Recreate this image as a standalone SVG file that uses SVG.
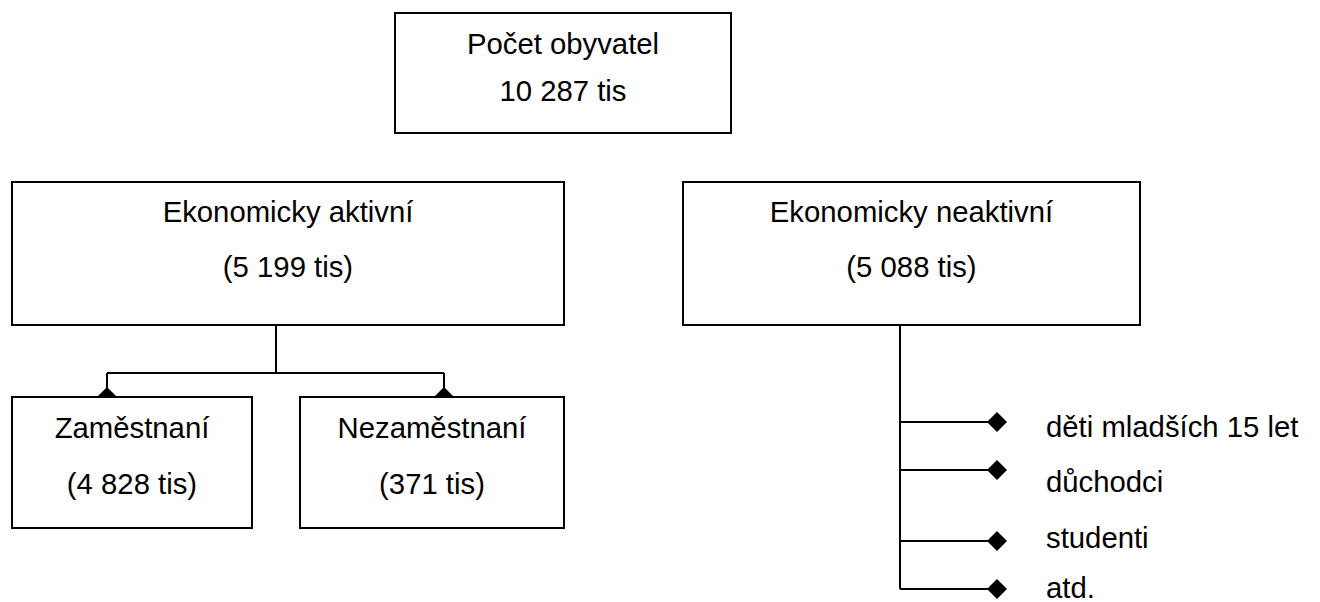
<svg xmlns="http://www.w3.org/2000/svg" width="1320" height="602" viewBox="0 0 1320 602">
<style>
.box{fill:#fff;stroke:#000;stroke-width:2}
.t{font-family:"Liberation Sans",Arial,sans-serif;font-size:29.3px;fill:#000}
.c{text-anchor:middle}
.ln{fill:none;stroke:#000;stroke-width:2}
.dm{fill:#000}
</style>
<rect width="1320" height="602" fill="#fff"/>
<g id="connectors">
<path class="ln" d="M276 325V373M107 373H444M107 373V397M444 373V397"/>
<path class="ln" d="M900 325V589M900 422H990M900 470H990M900 541H990M900 589H990"/>
<path class="dm" d="M107 387L117 397L107 407L97 397Z"/>
<path class="dm" d="M444 387L454 397L444 407L434 397Z"/>
<path class="dm" d="M997 412L1007 422L997 432L987 422Z"/>
<path class="dm" d="M997 460L1007 470L997 480L987 470Z"/>
<path class="dm" d="M997 531L1007 541L997 551L987 541Z"/>
<path class="dm" d="M997 579L1007 589L997 599L987 589Z"/>
</g>
<g id="pocet">
<rect class="box" x="395" y="13" width="336" height="120"/>
<text class="t c" x="563" y="54">Počet obyvatel</text>
<text class="t c" x="563" y="101">10 287 tis</text>
</g>
<g id="aktivni">
<rect class="box" x="12" y="182" width="552" height="143"/>
<text class="t c" x="288" y="222">Ekonomicky aktivní</text>
<text class="t c" x="288" y="277">(5 199 tis)</text>
</g>
<g id="neaktivni">
<rect class="box" x="683" y="182" width="457" height="143"/>
<text class="t c" x="911.5" y="222">Ekonomicky neaktivní</text>
<text class="t c" x="911.5" y="277">(5 088 tis)</text>
</g>
<g id="zamestnani">
<rect class="box" x="12" y="397" width="240" height="131"/>
<text class="t c" x="132" y="438">Zaměstnaní</text>
<text class="t c" x="132" y="494">(4 828 tis)</text>
</g>
<g id="nezamestnani">
<rect class="box" x="300" y="397" width="264" height="131"/>
<text class="t c" x="432" y="438">Nezaměstnaní</text>
<text class="t c" x="432" y="494">(371 tis)</text>
</g>
<g id="list">
<text class="t" x="1046" y="437">děti mladších 15 let</text>
<text class="t" x="1046" y="492">důchodci</text>
<text class="t" x="1046" y="548">studenti</text>
<text class="t" x="1046" y="598">atd.</text>
</g>
</svg>
